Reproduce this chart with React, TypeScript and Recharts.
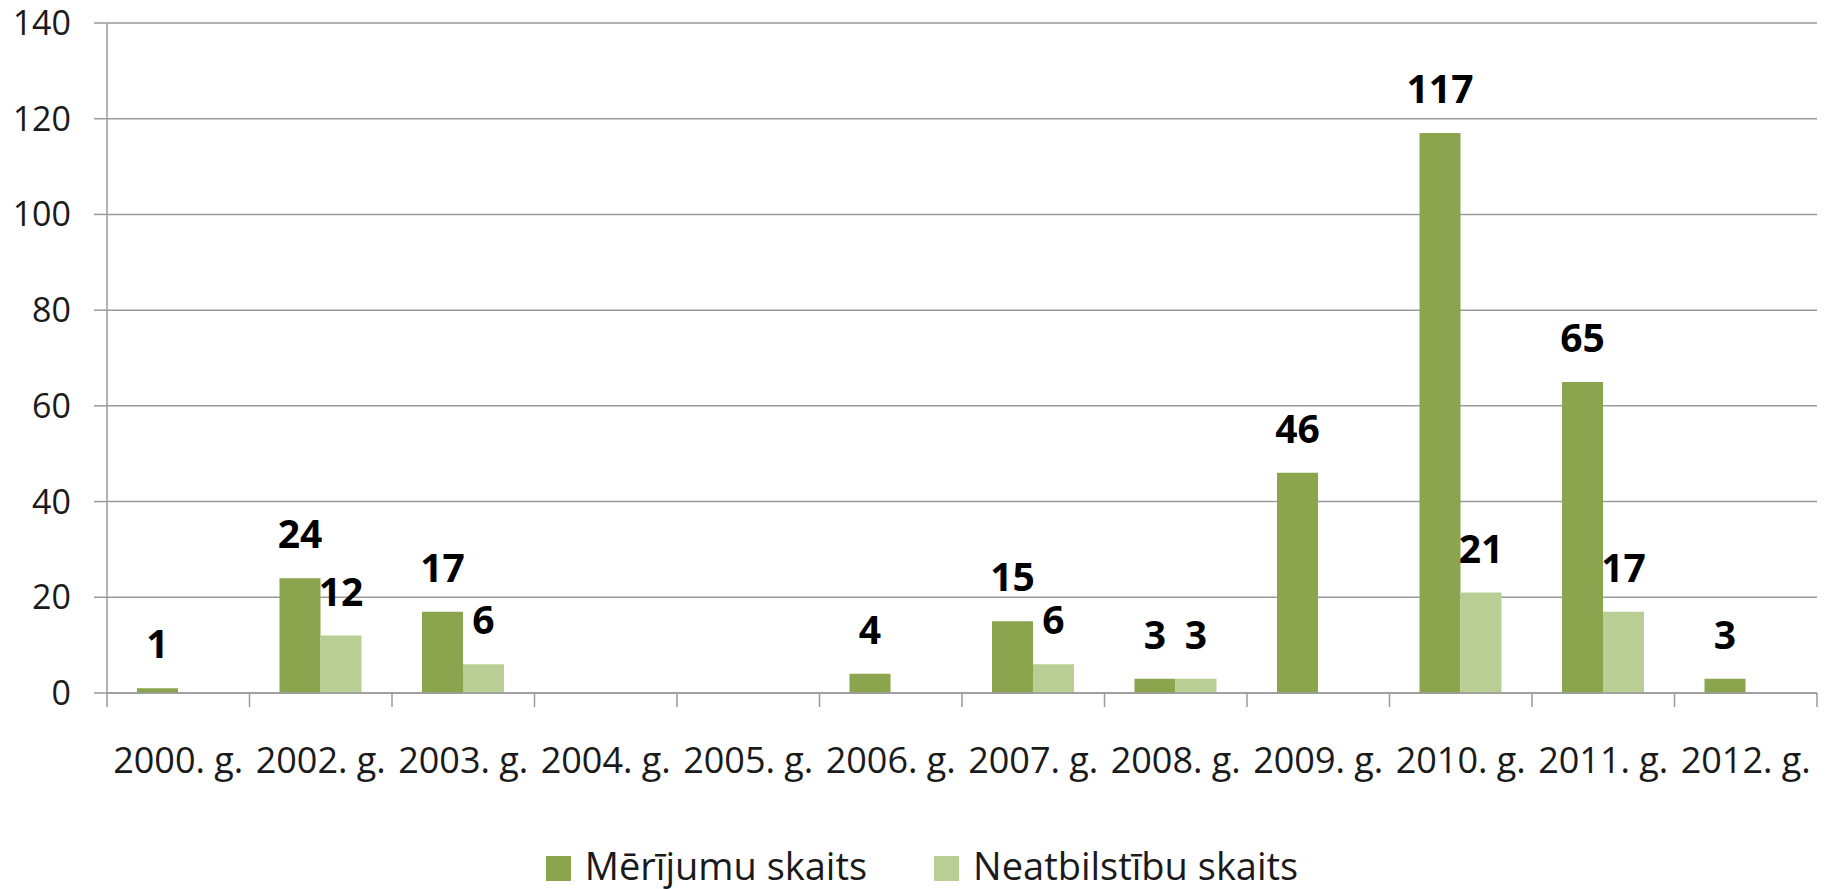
import React from "react";
import {
  BarChart,
  Bar,
  XAxis,
  YAxis,
  CartesianGrid,
  Legend,
  LabelList,
} from "recharts";

const years = [
  "2000. g.",
  "2002. g.",
  "2003. g.",
  "2004. g.",
  "2005. g.",
  "2006. g.",
  "2007. g.",
  "2008. g.",
  "2009. g.",
  "2010. g.",
  "2011. g.",
  "2012. g.",
];
const merijumi = [1, 24, 17, null, null, 4, 15, 3, 46, 117, 65, 3];
const neatbilstibas = [null, 12, 6, null, null, null, 6, 3, null, 21, 17, null];
const yTicks = [0, 20, 40, 60, 80, 100, 120, 140];

const SERIES = [
  { key: "Mērījumu skaits", color: "#8AA54D" },
  { key: "Neatbilstību skaits", color: "#B8CE95" },
];

const data = years.map((year, i) => ({
  year,
  "Mērījumu skaits": merijumi[i],
  "Neatbilstību skaits": neatbilstibas[i],
}));

const FONT = "'Open Sans', sans-serif";
const GRID = "#9a9a9a";
const TICK_MARGIN = 54;
const TICK_LEN = 14;

// category label plus the small tick marks on the category borders (Excel style)
function YearTick(props: any) {
  const { x, y, payload, index, visibleTicksCount } = props;
  const half = payload.offset ?? 0;
  const top = y - TICK_MARGIN;
  const isLast = index === visibleTicksCount - 1;
  return (
    <g>
      <line
        x1={x - half}
        x2={x - half}
        y1={top}
        y2={top + TICK_LEN}
        stroke={GRID}
        strokeWidth={1.5}
      />
      {isLast && (
        <line
          x1={x + half}
          x2={x + half}
          y1={top}
          y2={top + TICK_LEN}
          stroke={GRID}
          strokeWidth={1.5}
        />
      )}
      <text
        x={x}
        y={y}
        dy="0.71em"
        textAnchor="middle"
        fontFamily={FONT}
        fontSize={36}
        fill="#1a1a1a"
      >
        {payload.value}
      </text>
    </g>
  );
}

function LegendContent() {
  return (
    <div
      style={{
        width: 1833,
        height: 38,
        display: "flex",
        justifyContent: "center",
        alignItems: "center",
        paddingLeft: 11,
        boxSizing: "border-box",
        fontFamily: FONT,
        fontSize: 38,
        lineHeight: 1,
        color: "#1a1a1a",
      }}
    >
      {SERIES.map((s, i) => (
        <div
          key={s.key}
          style={{ display: "flex", alignItems: "center", marginLeft: i ? 67 : 0 }}
        >
          <span
            style={{
              display: "inline-block",
              width: 25,
              height: 25,
              background: s.color,
              marginRight: 14,
              marginTop: 6,
            }}
          />
          <span>{s.key}</span>
        </div>
      ))}
    </div>
  );
}

export default function App() {
  return (
    <div style={{ position: "absolute", left: 0, top: 0, background: "#fff" }}>
      <BarChart
        width={1833}
        height={889}
        data={data}
        margin={{ top: 23, right: 16, bottom: 5, left: 0 }}
        barGap={0}
        barCategoryGap={30}
      >
        <CartesianGrid vertical={false} stroke={GRID} strokeWidth={1.5} />
        <XAxis
          dataKey="year"
          height={153}
          tickLine={false}
          tickSize={0}
          tickMargin={TICK_MARGIN}
          interval={0}
          axisLine={{ stroke: GRID, strokeWidth: 1.5 }}
          tick={<YearTick />}
        />
        <YAxis
          width={107}
          domain={[0, 140]}
          ticks={yTicks}
          tickSize={13}
          tickMargin={23}
          axisLine={{ stroke: GRID, strokeWidth: 1.5 }}
          tickLine={{ stroke: GRID, strokeWidth: 1.5 }}
          tick={{ fontFamily: FONT, fontSize: 34, fill: "#1a1a1a" }}
        />
        <Legend verticalAlign="bottom" content={<LegendContent />} />
        {SERIES.map((s) => (
          <Bar
            key={s.key}
            dataKey={s.key}
            fill={s.color}
            isAnimationActive={false}
          >
            <LabelList
              dataKey={s.key}
              position="top"
              offset={30}
              style={{
                fontFamily: FONT,
                fontSize: 39,
                fontWeight: 700,
                fill: "#000",
              }}
            />
          </Bar>
        ))}
      </BarChart>
    </div>
  );
}
